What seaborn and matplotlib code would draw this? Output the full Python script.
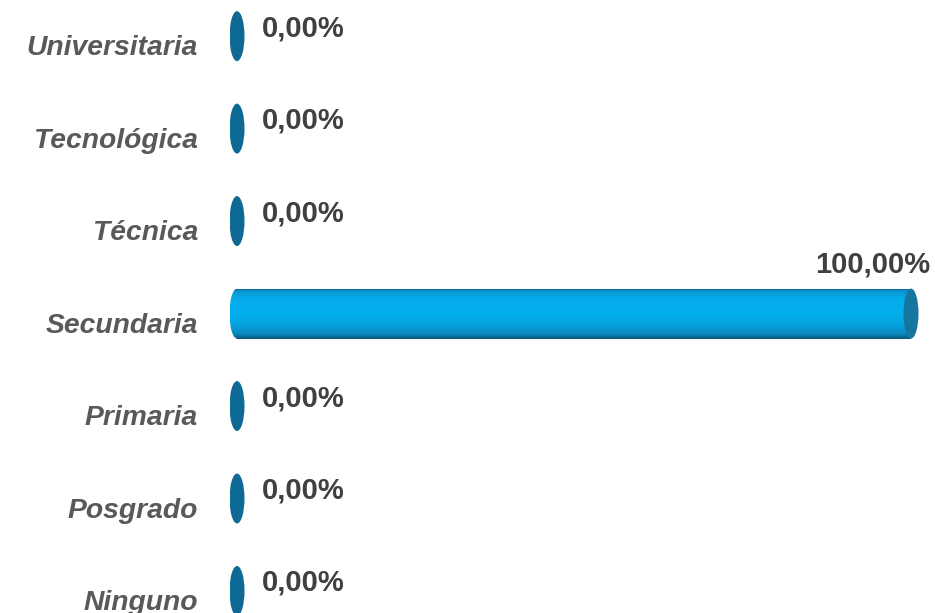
import numpy as np
import pandas as pd
import matplotlib
matplotlib.use("Agg")
import matplotlib.pyplot as plt
import matplotlib.transforms as mtransforms
from matplotlib.colors import LinearSegmentedColormap
from matplotlib.patches import Ellipse
import seaborn as sns

# Education level distribution (percent of respondents)
categories = ["Universitaria", "Tecnológica", "Técnica", "Secundaria",
              "Primaria", "Posgrado", "Ninguno"]
percentages = [0.0, 0.0, 0.0, 100.0, 0.0, 0.0, 0.0]


def fmt_pct(v):
    return f"{v:.2f}".replace(".", ",") + "%"


sns.set_theme(style="white")
plt.rcParams["font.family"] = ["Liberation Sans", "DejaVu Sans"]

df = pd.DataFrame({"nivel": categories, "pct": percentages})

W, H, DPI = 935, 613, 100
PX_PER_UNIT = 674 / 100
cap_w = 15 / PX_PER_UNIT          # ellipse width in data units
half = cap_w / 2

fig = plt.figure(figsize=(W / DPI, H / DPI), dpi=DPI)
fig.patch.set_facecolor("white")
left_px = 237 - half * PX_PER_UNIT
width_px = (100 + cap_w) * PX_PER_UNIT
ax = fig.add_axes([left_px / W, -0.0395, width_px / W, 1.056])

BAR_H = 0.54
body_color = "#06a8e6"
sns.barplot(data=df, x="pct", y="nivel", orient="h", color=body_color,
            saturation=1, width=BAR_H, ax=ax)

XLIM = (-half, 100 + half)
YLIM = (len(categories) - 0.5, -0.5)
ax.set_xlim(*XLIM)
ax.set_ylim(*YLIM)
ax.set_xlabel("")
ax.set_ylabel("")
ax.set_xticks([])
for s in ax.spines.values():
    s.set_visible(False)
ax.set_facecolor("white")

# cylinder shading: dark rim on top and bottom, bright cyan body
cyl_cmap = LinearSegmentedColormap.from_list(
    "cyl", [(0.0, "#0b6f9c"), (0.05, "#0a98d2"), (0.18, "#05aae9"),
            (0.45, "#04b0ef"), (0.72, "#05a3e0"), (0.9, "#0a88bd"),
            (1.0, "#0b5475")])
grad = np.linspace(0, 1, 256).reshape(-1, 1)

zero_color = "#0e6a95"
end_color = "#15769f"
label_kw = dict(textcoords="offset pixels", va="center", fontsize=21,
                fontweight="bold", color="#404040", annotation_clip=False)

for patch, val in zip(ax.patches, percentages):
    y0 = patch.get_y()
    h = patch.get_height()
    yc = y0 + h / 2
    if val > 0:
        patch.set_visible(False)
        # cylinder body
        body = plt.Rectangle((0, y0), val, h, facecolor="none",
                             edgecolor="none")
        ax.add_patch(body)
        img = ax.imshow(grad, cmap=cyl_cmap, aspect="auto", origin="upper",
                        extent=(0, val, y0 + h, y0), zorder=2)
        img.set_clip_path(body)
        # rounded base on the left
        base = Ellipse((0, yc), cap_w, h, facecolor="none", edgecolor="none")
        ax.add_patch(base)
        img2 = ax.imshow(grad, cmap=cyl_cmap, aspect="auto", origin="upper",
                         extent=(-half, half, y0 + h, y0), zorder=2)
        img2.set_clip_path(base)
        # end cap on the right
        ax.add_patch(Ellipse((val, yc), cap_w, h, facecolor=end_color,
                             edgecolor="none", zorder=3))
        ax.annotate(fmt_pct(val), xy=(val, yc), xytext=(19, 49),
                    ha="right", **label_kw)
    else:
        ax.add_patch(Ellipse((0, yc), cap_w, h, facecolor=zero_color,
                             edgecolor="none", zorder=3))
        ax.annotate(fmt_pct(val), xy=(0, yc), xytext=(25, 8),
                    ha="left", **label_kw)

ax.set_xlim(*XLIM)
ax.set_ylim(*YLIM)

ax.tick_params(axis="y", length=0, pad=(left_px - 198) * 0.72)
shift = mtransforms.ScaledTranslation(0, -9 / DPI, fig.dpi_scale_trans)
for lab in ax.get_yticklabels():
    lab.set_fontsize(20.3)
    lab.set_fontstyle("italic")
    lab.set_fontweight("bold")
    lab.set_color("#595959")
    lab.set_transform(lab.get_transform() + shift)

fig.savefig("out.png", dpi=DPI, facecolor="white")
